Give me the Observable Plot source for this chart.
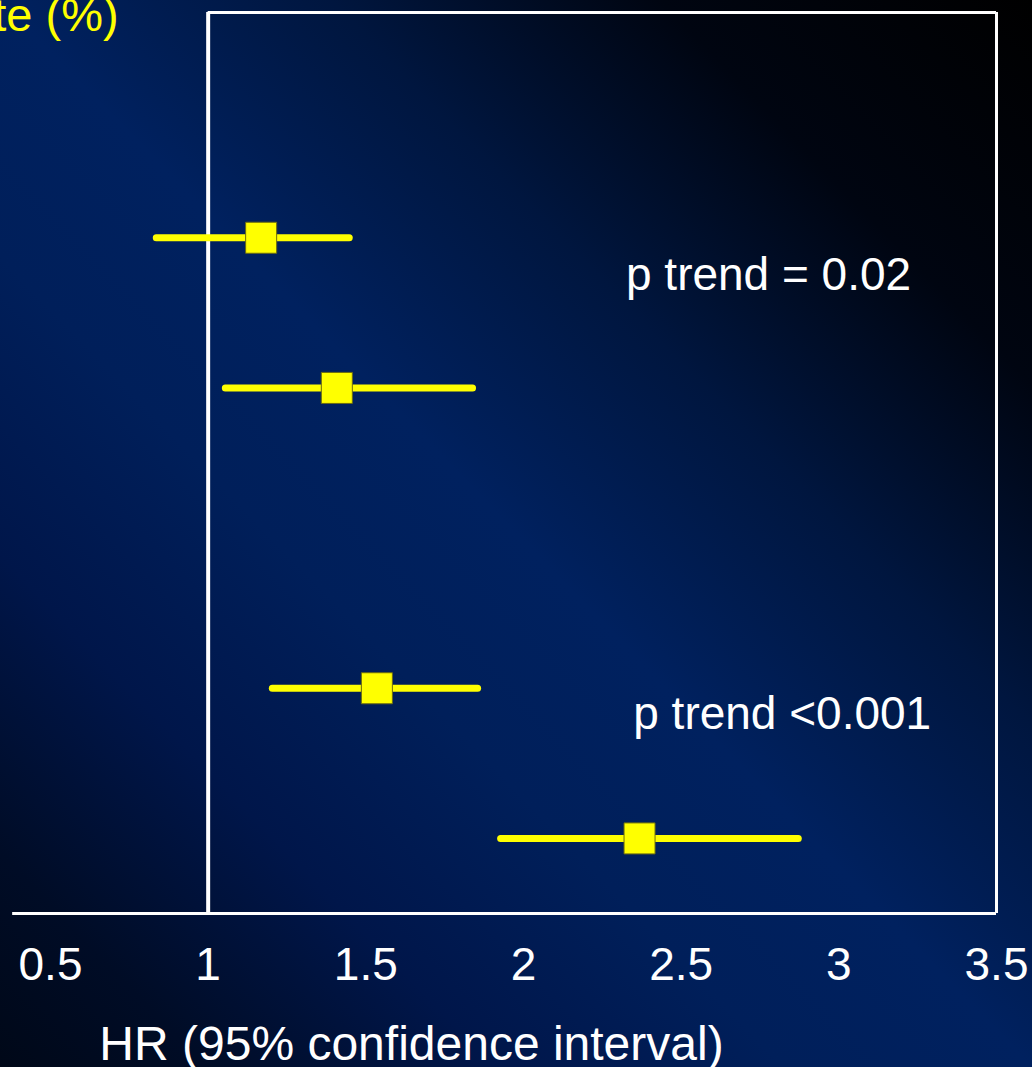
<!DOCTYPE html>
<html>
<head>
<meta charset="utf-8">
<script src="https://cdn.jsdelivr.net/npm/d3@7"></script>
<script src="https://cdn.jsdelivr.net/npm/@observablehq/plot@0.6"></script>
<style>
  html, body { margin: 0; padding: 0; overflow: hidden; }
  #chart {
    width: 1032px; height: 1067px; overflow: hidden;
    background: linear-gradient(to bottom left, #000000 0%, #000511 18%, #00163f 34%, #00215f 50%, #001f5a 62%, #00164a 76%, #000c26 90%, #000818 100%);
  }
  #chart svg { display: block; overflow: hidden; }
</style>
</head>
<body>
<div id="chart"></div>
<script>
// ---- data ----
const rowIndex = [1, 2, 4, 5];           // table row of each estimate
const hrValues = [1.168, 1.408, 1.535, 2.368];
const ciLower  = [0.837, 1.056, 1.205, 1.929];
const ciUpper  = [1.449, 1.840, 1.856, 2.873];
const xTicks   = [0.5, 1, 1.5, 2, 2.5, 3, 3.5];
const xLabel   = "HR (95% confidence interval)";
const headerText = "te (%)";
const trendTexts = ["p trend = 0.02", "p trend <0.001"];
const trendRows  = [1.25, 4.17];
const trendHR    = [2.325, 2.348];

const refHR = 1;
const axisStart = 0.38;

const rows = rowIndex.map((r, i) => ({row: r, hr: hrValues[i], lo: ciLower[i], hi: ciUpper[i]}));
const trends = trendTexts.map((t, i) => ({text: t, row: trendRows[i], x: trendHR[i]}));

const yellow = "#ffff00";
const font = "'Liberation Sans', Arial, Helvetica, sans-serif";

const chart = Plot.plot({
  width: 1032,
  height: 1067,
  marginLeft: 50,
  marginRight: 36,
  marginTop: 12,
  marginBottom: 154,
  style: {background: "transparent", fontFamily: font, color: "white"},
  x: {domain: [xTicks[0], xTicks[xTicks.length - 1]]},
  y: {domain: [-0.5, 5.5], reverse: true, axis: null},
  marks: [
    // box
    Plot.ruleX([refHR], {stroke: "white", strokeWidth: 4}),
    Plot.ruleX([xTicks[xTicks.length - 1]], {stroke: "white", strokeWidth: 3}),
    Plot.ruleY([-0.5], {x1: refHR, x2: xTicks[xTicks.length - 1], stroke: "white", strokeWidth: 3}),
    Plot.ruleY([5.5], {x1: axisStart, x2: xTicks[xTicks.length - 1], stroke: "white", strokeWidth: 3}),
    Plot.axisX({
      ticks: xTicks,
      tickFormat: d => String(d),
      tickSize: 0,
      tickPadding: 34,
      fontSize: 46,
      fill: "white",
      label: null
    }),
    // confidence intervals
    Plot.ruleY(rows, {y: "row", x1: "lo", x2: "hi", stroke: yellow, strokeWidth: 7, strokeLinecap: "round"}),
    Plot.dot(rows, {x: "hr", y: "row", symbol: "square", r: 17.5, fill: yellow, stroke: "#6b6b10", strokeWidth: 1}),
    // annotations
    Plot.text(trends, {x: "x", y: "row", text: "text", textAnchor: "start", fill: "white", fontSize: 46}),
    Plot.text([headerText], {x: 0.716, y: -0.5, dy: 3, text: d => d, textAnchor: "end", fill: yellow, fontSize: 47}),
    Plot.text([xLabel], {frameAnchor: "bottom", dx: -112, dy: 112, lineAnchor: "top", textAnchor: "middle", fill: "white", fontSize: 48})
  ]
});

document.getElementById("chart").appendChild(chart);
</script>
</body>
</html>
